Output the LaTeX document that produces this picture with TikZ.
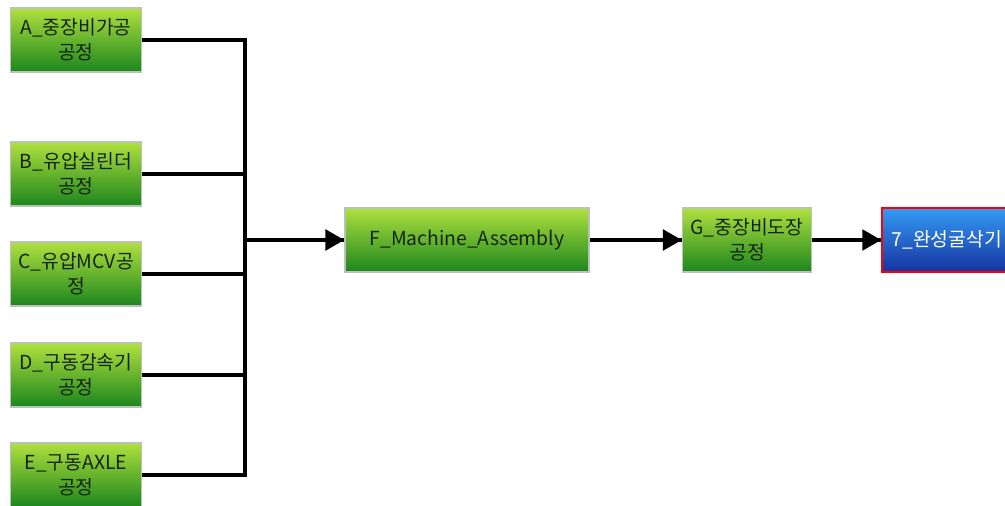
\documentclass[tikz,border=0pt]{standalone}
\usepackage{fontspec}
\setmainfont{Noto Sans CJK KR}
\usepackage{tikz}
\usetikzlibrary{arrows}
\usetikzlibrary{decorations.markings}
\usetikzlibrary{positioning}
\definecolor{mlight}{RGB}{176, 224, 62}
\definecolor{mdark}{RGB}{28, 134, 30}
\definecolor{mgrey}{RGB}{185, 195, 185}
\definecolor{bluetop}{RGB}{52, 156, 244}
\definecolor{bluebot}{RGB}{22, 50, 160}
\definecolor{mtext}{RGB}{20, 36, 20}
\tikzset{proc/.style = {draw = mgrey, line width = 1pt, top color = mlight,
                        bottom color = mdark, text = mtext, align = center,
                        minimum width = 2.62cm, minimum height = 1.28cm,
                        inner sep = 0, font = \fontsize{11pt}{14.5pt}\selectfont}}
\tikzset{final/.style = {proc, draw = red, top color = bluetop,
                         bottom color = bluebot, text = white}}
\tikzset{wire/.style = {line width = 2.3pt, line join = miter}}
\tikzset{flow/.style = {wire, decoration={markings,
                                  mark=at position 1 with {\arrow[scale=0.9]{triangle 60}}},
                        postaction={decorate}}}

\begin{document}
\begin{tikzpicture}[x=0.02cm, y=-0.02cm]
      \useasboundingbox (0, 0) rectangle (1005, 506);
      \clip (0, 0) rectangle (1005, 506);

      \node [proc] (A) at (76, 40) {A\_중장비가공\\공정};
      \node [proc] (B) at (76, 174) {B\_유압실린더\\공정};
      \node [proc] (C) at (76, 274) {C\_유압MCV공\\정};
      \node [proc] (D) at (76, 375) {D\_구동감속기\\공정};
      \node [proc] (E) at (76, 475) {E\_구동AXLE\\공정};

      \node [proc, minimum width = 4.88cm] (F) at (467, 240) {F\_Machine\_Assembly};
      \node [proc, minimum width = 2.58cm] (G) at (747, 240) {G\_중장비도장\\공정};
      \node [final, minimum width = 2.6cm, anchor = west] (H) at (881, 240) {7\_완성굴삭기};

      \coordinate (hub) at (245, 240);

      \foreach \n in {A, B, C, D, E}{
        \draw [wire] (\n.east) -| (hub);
      }

      \draw [flow] (hub) -- (F.west);
      \draw [flow] (F.east) -- (G.west);
      \draw [flow] (G.east) -- (H.west);
    \end{tikzpicture}
\end{document}
